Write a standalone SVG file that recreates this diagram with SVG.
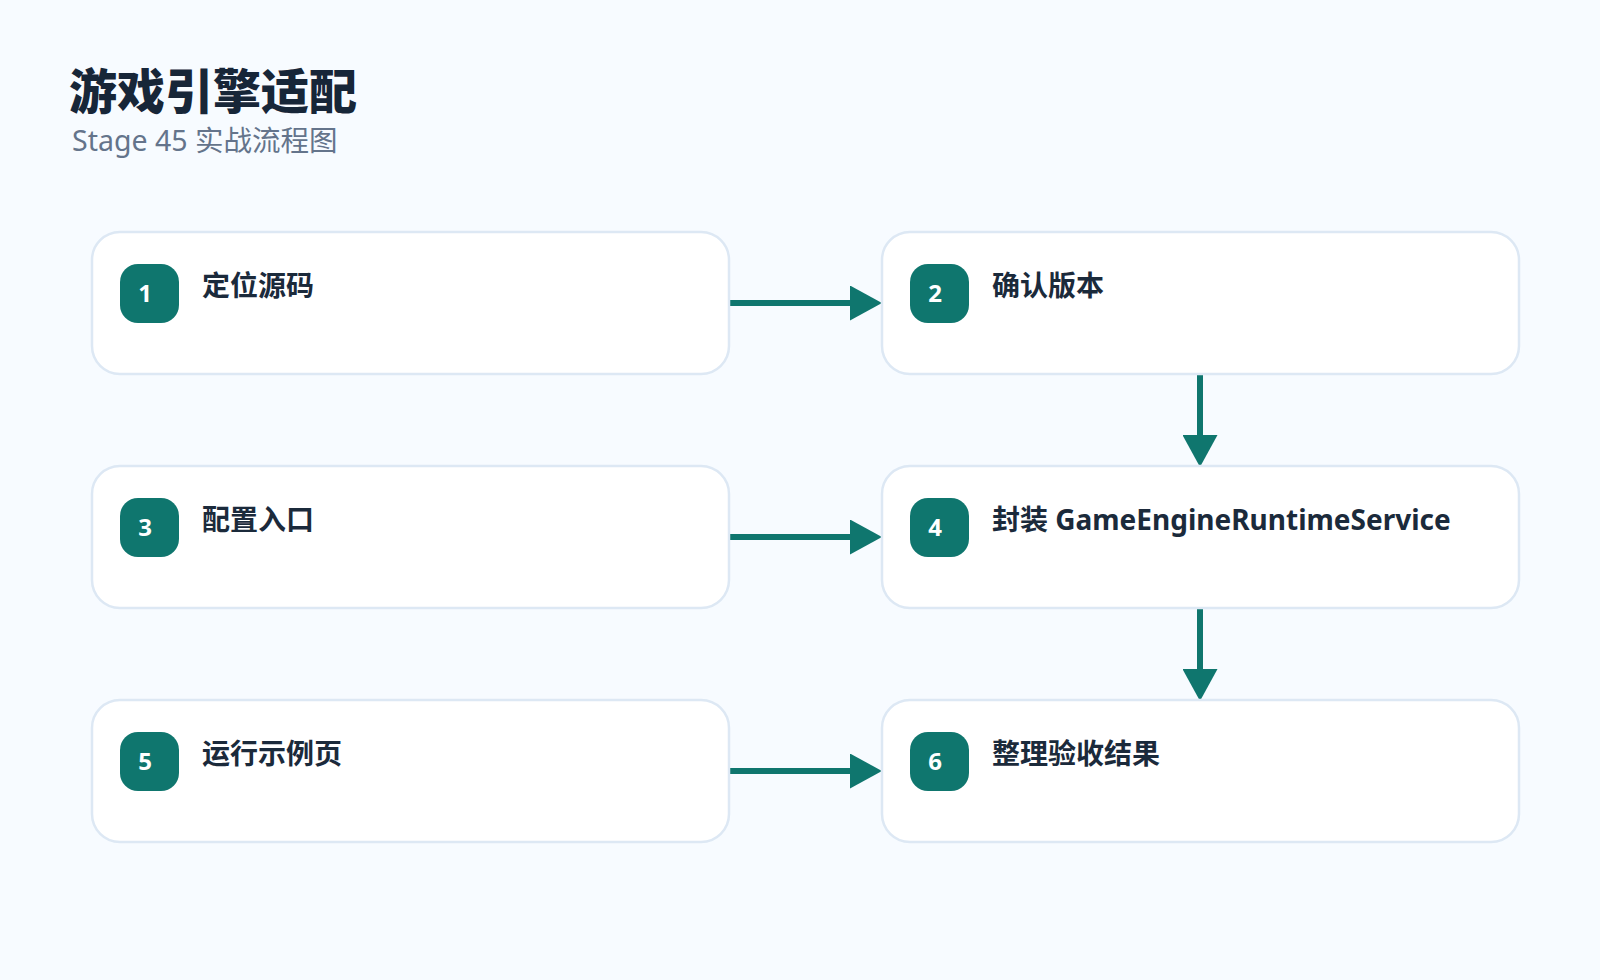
<svg xmlns="http://www.w3.org/2000/svg" width="1600" height="980" viewBox="0 0 1600 980">
<defs>
<style>
.bg{fill:#f7fbff}
.box{fill:#ffffff;stroke:#dde8f4;stroke-width:2.5}
.badge{fill:#0f766e}
.num{font-family:"Noto Sans","Noto Sans CJK SC",sans-serif;font-weight:700;font-size:24px;fill:#ffffff;text-anchor:middle}
.lbl{font-family:"Noto Sans","Noto Sans CJK SC",sans-serif;font-weight:700;font-size:28px;fill:#1b2a3b}
.title{font-family:"Noto Sans CJK SC",sans-serif;font-weight:900;font-size:48px;fill:#172638}
.sub{font-family:"Noto Sans","Noto Sans CJK SC",sans-serif;font-weight:400;font-size:28.5px;fill:#64748b}
.edge{stroke:#0f766e;stroke-width:6;fill:none}
.head{fill:#0f766e}
</style>
<marker id="arr" viewBox="0 0 32 35" refX="0" refY="17.5" markerWidth="32" markerHeight="35" markerUnits="userSpaceOnUse" orient="auto">
<path d="M0,0 L32,17.5 L0,35 Z" class="head"/>
</marker>
</defs>
<rect class="bg" x="0" y="0" width="1600" height="980"/>
<g id="header">
<text class="title" x="69" y="109">游戏引擎适配</text>
<text class="sub" x="72" y="151">Stage 45 实战流程图</text>
</g>
<g id="connectors">
<line class="edge" x1="729" y1="303" x2="850" y2="303" marker-end="url(#arr)"/>
<line class="edge" x1="729" y1="537" x2="850" y2="537" marker-end="url(#arr)"/>
<line class="edge" x1="729" y1="771" x2="850" y2="771" marker-end="url(#arr)"/>
<line class="edge" x1="1200" y1="374" x2="1200" y2="435" marker-end="url(#arr)"/>
<line class="edge" x1="1200" y1="608" x2="1200" y2="669" marker-end="url(#arr)"/>
</g>
<g id="node1">
<rect class="box" x="92" y="232" width="637" height="142" rx="28"/>
<rect class="badge" x="120" y="264" width="59" height="59" rx="18"/>
<text class="num" x="145" y="302">1</text>
<text class="lbl" x="202" y="296">定位源码</text>
</g>
<g id="node2">
<rect class="box" x="882" y="232" width="637" height="142" rx="28"/>
<rect class="badge" x="910" y="264" width="59" height="59" rx="18"/>
<text class="num" x="935" y="302">2</text>
<text class="lbl" x="992" y="296">确认版本</text>
</g>
<g id="node3">
<rect class="box" x="92" y="466" width="637" height="142" rx="28"/>
<rect class="badge" x="120" y="498" width="59" height="59" rx="18"/>
<text class="num" x="145" y="536">3</text>
<text class="lbl" x="202" y="530">配置入口</text>
</g>
<g id="node4">
<rect class="box" x="882" y="466" width="637" height="142" rx="28"/>
<rect class="badge" x="910" y="498" width="59" height="59" rx="18"/>
<text class="num" x="935" y="536">4</text>
<text class="lbl" x="992" y="530">封装 GameEngineRuntimeService</text>
</g>
<g id="node5">
<rect class="box" x="92" y="700" width="637" height="142" rx="28"/>
<rect class="badge" x="120" y="732" width="59" height="59" rx="18"/>
<text class="num" x="145" y="770">5</text>
<text class="lbl" x="202" y="764">运行示例页</text>
</g>
<g id="node6">
<rect class="box" x="882" y="700" width="637" height="142" rx="28"/>
<rect class="badge" x="910" y="732" width="59" height="59" rx="18"/>
<text class="num" x="935" y="770">6</text>
<text class="lbl" x="992" y="764">整理验收结果</text>
</g>
</svg>
